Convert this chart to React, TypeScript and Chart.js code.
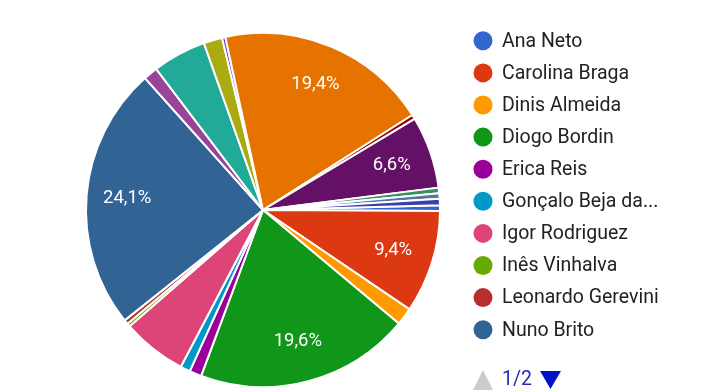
import { useEffect, useRef } from "react";
import { Chart, registerables } from "chart.js";
Chart.register(...registerables);

const labels = [
  "Ana Neto",
  "Carolina Braga",
  "Dinis Almeida",
  "Diogo Bordin",
  "Erica Reis",
  "Gonçalo Beja da...",
  "Igor Rodriguez",
  "Inês Vinhalva",
  "Leonardo Gerevini",
  "Nuno Brito",
  "Participante 11",
  "Participante 12",
  "Participante 13",
  "Participante 14",
  "Participante 15",
  "Participante 16",
  "Participante 17",
  "Participante 18",
  "Participante 19",
  "Participante 20",
];

const values = [
  0.5, 9.4, 1.6, 19.6, 1.1, 0.9, 5.9, 0.3, 0.4, 24.1,
  1.3, 4.9, 1.7, 0.3, 19.4, 0.4, 6.6, 0.5, 0.5, 0.6,
];

const colors = [
  "#3366cc", "#dc3912", "#ff9900", "#109618", "#990099",
  "#0099c6", "#dd4477", "#66aa00", "#b82e2e", "#316395",
  "#994499", "#22aa99", "#aaaa11", "#6633cc", "#e67300",
  "#8b0707", "#651067", "#329262", "#5574a6", "#3b3eac",
];

const legendPageSize = 10;
const pageText = "1/2";

export default function App() {
  const ref = useRef<HTMLCanvasElement>(null);

  useEffect(() => {
    document.body.style.margin = "0";
    const total = values.reduce((a, b) => a + b, 0);

    const sliceLabels = {
      id: "sliceLabels",
      afterDatasetsDraw(chart: any) {
        const ctx = chart.ctx;
        const meta = chart.getDatasetMeta(0);
        ctx.save();
        ctx.font = "18.5px Roboto";
        ctx.fillStyle = "#ffffff";
        ctx.textAlign = "center";
        ctx.textBaseline = "middle";
        meta.data.forEach((arc: any, i: number) => {
          const frac = values[i] / total;
          if (frac < 0.06) return;
          const p = arc.getProps(["x", "y", "startAngle", "endAngle", "outerRadius"], true);
          const mid = (p.startAngle + p.endAngle) / 2;
          const r = p.outerRadius * 0.77;
          const txt = (frac * 100).toFixed(1).replace(".", ",") + "%";
          ctx.fillText(txt, p.x + Math.cos(mid) * r, p.y + Math.sin(mid) * r);
        });
        ctx.restore();
      },
    };

    const sideLegend = {
      id: "sideLegend",
      afterDraw(chart: any) {
        const ctx = chart.ctx;
        ctx.save();
        ctx.font = "19.5px Roboto";
        ctx.textBaseline = "middle";
        ctx.textAlign = "left";
        const n = Math.min(legendPageSize, labels.length);
        for (let i = 0; i < n; i++) {
          const y = 40.8 + i * 32.1;
          ctx.fillStyle = colors[i];
          ctx.beginPath();
          ctx.arc(483, y, 9.5, 0, Math.PI * 2);
          ctx.fill();
          ctx.fillStyle = "#222222";
          ctx.fillText(labels[i], 502, y + 1);
        }
        // pager
        ctx.fillStyle = "#cccccc";
        ctx.beginPath();
        ctx.moveTo(473, 390);
        ctx.lineTo(493, 390);
        ctx.lineTo(483, 370);
        ctx.closePath();
        ctx.fill();
        ctx.fillStyle = "#2b2bb0";
        ctx.fillText(pageText, 502, 380);
        ctx.fillStyle = "#0011cc";
        ctx.beginPath();
        ctx.moveTo(540, 371);
        ctx.lineTo(561, 371);
        ctx.lineTo(550.5, 389);
        ctx.closePath();
        ctx.fill();
        ctx.restore();
      },
    };

    const chart = new Chart(ref.current!, {
      type: "pie",
      data: {
        labels,
        datasets: [
          {
            data: values,
            backgroundColor: colors,
            borderColor: "#ffffff",
            borderWidth: 2,
          },
        ],
      },
      options: {
        responsive: false,
        animation: false,
        rotation: 88.5,
        layout: { padding: { left: 85, top: 32, right: 278, bottom: 4 } },
        plugins: {
          legend: { display: false },
          tooltip: { enabled: false },
        },
      },
      plugins: [sliceLabels, sideLegend],
    });
    return () => chart.destroy();
  }, []);

  return (
    <div style={{ position: "fixed", left: 0, top: 0, width: 719, height: 392, background: "#fff" }}>
      <canvas ref={ref} width={719} height={392} style={{ display: "block" }} />
    </div>
  );
}
